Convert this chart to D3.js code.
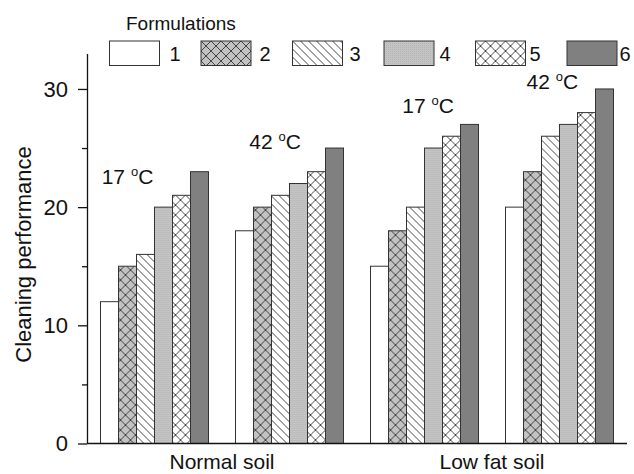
<!DOCTYPE html>
<html>
<head>
<meta charset="utf-8">
<script src="https://cdn.jsdelivr.net/npm/d3@7"></script>
<style>
  body { margin: 0; background: #fff; }
  svg { display: block; font-family: "Liberation Sans", Arial, sans-serif; }
</style>
</head>
<body>
<div id="chart"></div>
<script>
const soils = ["Normal soil", "Low fat soil"];
const temps = ["17", "42"];
const formulations = ["1", "2", "3", "4", "5", "6"];
const normal17 = [12, 15, 16, 20, 21, 23];
const normal42 = [18, 20, 21, 22, 23, 25];
const lowfat17 = [15, 18, 20, 25, 26, 27];
const lowfat42 = [20, 23, 26, 27, 28, 30];
const yTicks = [0, 10, 20, 30];
const yMinorTicks = [5, 15, 25];
// temperature notes: centre given as bar slot in the group, baseline as a value
const noteSlot = [1.5, 2.2, 3.2, 2.6];
const noteValue = [22, 24.9, 28, 30];

const groups = [
  { soil: 0, temp: 0, values: normal17 },
  { soil: 0, temp: 1, values: normal42 },
  { soil: 1, temp: 0, values: lowfat17 },
  { soil: 1, temp: 1, values: lowfat42 }
];

const W = 634, H = 474;
const svg = d3.select("#chart").append("svg").attr("width", W).attr("height", H);

// patterns for the six formulations
const defs = svg.append("defs");
const cross = (id, bg) => {
  const p = defs.append("pattern").attr("id", id).attr("patternUnits", "userSpaceOnUse")
    .attr("width", 10).attr("height", 10);
  p.append("rect").attr("width", 10).attr("height", 10).attr("fill", bg);
  p.append("path").attr("d", "M-1,-1L11,11M11,-1L-1,11")
    .attr("stroke", "#333").attr("stroke-width", 0.9).attr("fill", "none");
};
cross("p2", "#c2c2c2");
cross("p5", "#fff");
const hatch = defs.append("pattern").attr("id", "p3").attr("patternUnits", "userSpaceOnUse")
  .attr("width", 8).attr("height", 8);
hatch.append("rect").attr("width", 8).attr("height", 8).attr("fill", "#fff");
hatch.append("path").attr("d", "M-1,-1L9,9M-3,5L3,11M5,-3L11,3")
  .attr("stroke", "#333").attr("stroke-width", 0.9).attr("fill", "none");
// fine dotted grey for formulation 4
const dots = defs.append("pattern").attr("id", "p4").attr("patternUnits", "userSpaceOnUse")
  .attr("width", 2).attr("height", 2);
dots.append("rect").attr("width", 2).attr("height", 2).attr("fill", "#c4c4c4");
dots.append("rect").attr("width", 1).attr("height", 1).attr("fill", "#b4b4b4");

const fills = ["#fff", "url(#p2)", "url(#p3)", "url(#p4)", "url(#p5)", "#808080"];

const x0 = d3.scaleBand().domain(d3.range(groups.length)).range([87, 627])
  .paddingInner(0.2).paddingOuter(0.1);
const x1 = d3.scaleBand().domain(formulations).range([0, x0.bandwidth()]);
const y = d3.scaleLinear().domain([0, 33]).range([443.5, 53.5]);

// bars
const g = svg.selectAll(".grp").data(groups).join("g")
  .attr("class", "grp")
  .attr("transform", (d, i) => `translate(${x0(i)},0)`);

g.selectAll("rect").data(d => d.values.map((v, k) => ({ v, k }))).join("rect")
  .attr("x", d => x1(formulations[d.k]))
  .attr("y", d => y(d.v))
  .attr("width", x1.bandwidth())
  .attr("height", d => y(0) - y(d.v))
  .attr("fill", d => fills[d.k])
  .attr("stroke", "#333").attr("stroke-width", 1);

// temperature notes
groups.forEach((d, i) => {
  const t = svg.append("text")
    .attr("x", x0(i) + x1.step() * noteSlot[i])
    .attr("y", y(noteValue[i]))
    .attr("text-anchor", "middle")
    .style("font-size", "21px").attr("fill", "#111");
  t.append("tspan").text(temps[d.temp] + " ");
  t.append("tspan").attr("dy", -8).style("font-size", "13px").text("o");
  t.append("tspan").attr("dy", 8).text("C");
});

// axes
const yAxis = svg.append("g").attr("transform", "translate(87,0)")
  .call(d3.axisLeft(y).tickValues(yTicks).tickSize(9).tickSizeOuter(0).tickPadding(10));
yAxis.selectAll("text").style("font-size", "22px").attr("fill", "#111");
yAxis.selectAll("path, line").attr("stroke", "#111").attr("stroke-width", 1.3);

svg.append("g").attr("transform", "translate(87,0)")
  .call(d3.axisLeft(y).tickValues(yMinorTicks).tickSize(5).tickFormat(""))
  .call(a => a.select(".domain").remove())
  .selectAll("line").attr("stroke", "#111").attr("stroke-width", 1.3);

svg.append("line")
  .attr("x1", 87).attr("x2", 627).attr("y1", y(0)).attr("y2", y(0))
  .attr("stroke", "#111").attr("stroke-width", 1.5);

// soil labels, centred between the two temperature groups
soils.forEach((s, si) => {
  const idx = groups.map((d, i) => d.soil === si ? i : -1).filter(i => i >= 0);
  const cx = (x0(idx[0]) + x0(idx[idx.length - 1]) + x0.bandwidth()) / 2;
  svg.append("text").attr("x", cx).attr("y", 469)
    .attr("text-anchor", "middle").style("font-size", "21px").attr("fill", "#111")
    .text(s);
});

svg.append("text")
  .attr("transform", `translate(31,${(y(0) + y(33)) / 2 + 6}) rotate(-90)`)
  .attr("text-anchor", "middle").style("font-size", "22px").attr("fill", "#111")
  .text("Cleaning performance");

// legend
svg.append("text").attr("x", 126).attr("y", 30).style("font-size", "19px").attr("fill", "#111")
  .text("Formulations");
const lg = svg.selectAll(".lg").data(formulations).join("g")
  .attr("class", "lg")
  .attr("transform", (d, i) => `translate(${109.5 + i * 91.5},41)`);
lg.append("rect").attr("width", 50).attr("height", 24.5)
  .attr("fill", (d, i) => fills[i]).attr("stroke", "#333").attr("stroke-width", 1);
lg.append("text").attr("x", (d, i) => 60 - i * 1.5).attr("y", 20)
  .style("font-size", "20px").attr("fill", "#111")
  .text(d => d);
</script>
</body>
</html>
